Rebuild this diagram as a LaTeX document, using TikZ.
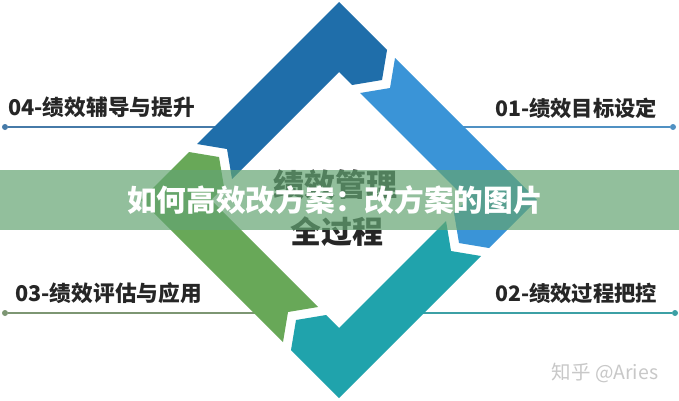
\documentclass[tikz,border=0pt]{standalone}
\usepackage{fontspec}
\newfontfamily\cjk{Noto Sans CJK SC}
\definecolor{dunkelblau}{RGB}{31,110,170}
\definecolor{hellblau}{RGB}{58,148,215}
\definecolor{tuerkis}{RGB}{32,163,172}
\definecolor{gruen}{RGB}{104,168,88}
\definecolor{linieA}{RGB}{70,122,168}
\definecolor{linieB}{RGB}{80,145,195}
\definecolor{linieC}{RGB}{60,160,165}
\definecolor{linieD}{RGB}{125,150,115}
\definecolor{schrift}{RGB}{38,38,38}
\definecolor{balken}{RGB}{100,165,115}
\definecolor{wasser}{RGB}{200,200,200}
\tikzset{
  punkt/.style={circle,fill=#1,inner sep=0pt,minimum size=6pt},
  linie/.style={draw=#1,line width=1.5pt},
  etikett/.style={anchor=west,inner sep=0pt,text=schrift,font=\cjk\bfseries\fontsize{#1}{#1}\selectfont},
  mitte/.style={inner sep=0pt,text=schrift,font=\cjk\bfseries\fontsize{31}{31}\selectfont}
}
\begin{document}
\begin{tikzpicture}[x=1pt,y=1pt]
\useasboundingbox (0,0) rectangle (679,400);
\fill[white] (0,0) rectangle (679,400);
% Linien
\node[punkt=linieA]at(5,273)(p04){};
\coordinate (e04) at (235,273);
\draw[linie=linieA](p04) -- (e04);
\node[punkt=linieB]at(673,273)(p01){};
\coordinate (e01) at (445,273);
\draw[linie=linieB](e01) -- (p01);
\node[punkt=linieD]at(5,87)(p03){};
\coordinate (e03) at (265,87);
\draw[linie=linieD](p03) -- (e03);
\node[punkt=linieC]at(675,87)(p02){};
\coordinate (e02) at (415,87);
\draw[linie=linieC](e02) -- (p02);

% Bezeichnung
\node[etikett=21.7]at(8,293)(t04){04-绩效辅导与提升};
\node[etikett=21.3]at(495,292)(t01){01-绩效目标设定};
\node[etikett=21.7]at(15,107)(t03){03-绩效评估与应用};
\node[etikett=21.3]at(495,107)(t02){02-绩效过程把控};

% Raute
\begin{scope}[shift={(339,200)}]
\foreach \farbe/\winkel in {dunkelblau/0,hellblau/-90,tuerkis/-180,gruen/-270}
  \fill[\farbe,rotate=\winkel](-142,56) -- (0,198) -- (48,150) -- (43,120) -- (13,115)
    -- (0,128) -- (-107,21) -- (-112,51) -- cycle;
\end{scope}
\node[mitte]at(335,215)(m1){绩效管理};
\node[mitte]at(337,168)(m2){全过程};

% Balken
\fill[balken,opacity=0.7](0,170) rectangle (679,230);
\node[inner sep=0pt,text=white,font=\cjk\bfseries\fontsize{29.7}{29.7}\selectfont]at(335,200)(titel){如何高效改方案：改方案的图片};

% Wasserzeichen
\node[inner sep=0pt,text=wasser,font=\cjk\fontsize{19.5}{19.5}\selectfont]at(605,27)(marke){知乎 @Aries};
\end{tikzpicture}
\end{document}
